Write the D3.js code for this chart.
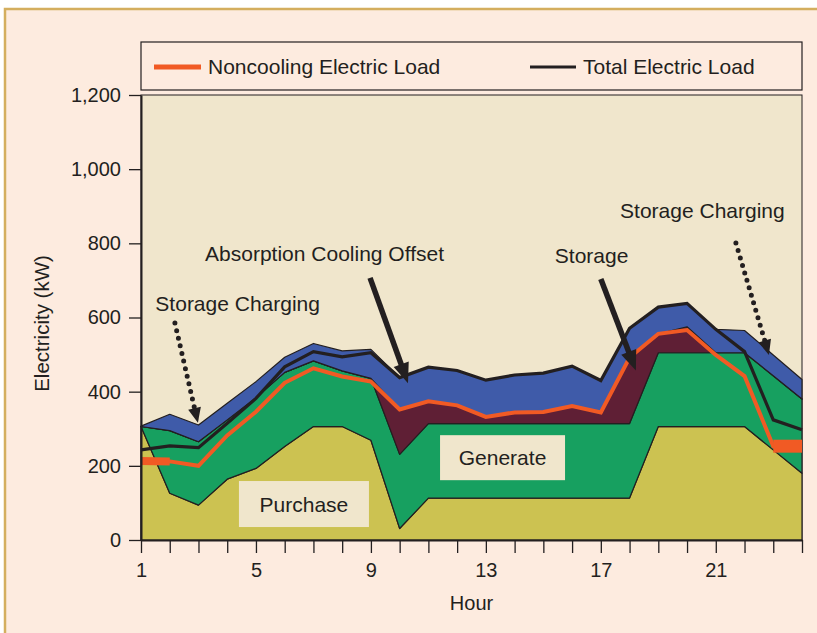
<!DOCTYPE html>
<html>
<head>
<meta charset="utf-8">
<script src="https://cdn.jsdelivr.net/npm/d3@7"></script>
<style>
  body { margin: 0; background: #fff; }
  text { font-family: "Liberation Sans", Arial, Helvetica, sans-serif; fill: #231f20; }
</style>
</head>
<body>
<script>
// hourly values (kW)
const hours = [1, 2, 3, 4, 5, 6, 7, 8, 9, 10, 11, 12, 13, 14, 15, 16, 17, 18, 19, 20, 21, 22, 23, 24];
// top of each stacked band
const purchaseTop = [306, 126, 94, 164, 193, 252, 306, 306, 269, 31, 113, 113, 113, 113, 113, 113, 113, 113, 306, 306, 306, 306, 243, 180];
const generateTop = [306, 295, 265, 324, 384, 452, 483, 456, 436, 231, 314, 314, 314, 314, 314, 314, 314, 314, 505, 505, 505, 505, 443, 380];
const storageTop = [306, 295, 265, 324, 384, 452, 483, 456, 436, 352, 374, 363, 332, 344, 345, 361, 344, 492, 556, 575, 505, 505, 443, 380];
const coolingTop = [307, 339, 310, 369, 427, 493, 530, 510, 514, 438, 466, 457, 431, 445, 450, 469, 430, 571, 628, 638, 568, 565, 499, 433];
// load lines
const totalLoad = [243, 254, 249, 315, 382, 467, 508, 494, 505, 438, 466, 457, 431, 445, 450, 469, 430, 571, 628, 638, 568, 508, 324, 297];
const noncoolingLoad = [213, 212, 200, 282, 346, 424, 463, 441, 427, 352, 374, 363, 332, 344, 345, 361, 344, 492, 556, 566, 499, 442, 253, 253];

const xTickLabels = [1, 5, 9, 13, 17, 21];
const yTicks = [0, 200, 400, 600, 800, 1000, 1200];

const bandNames = ["Purchase", "Generate", "Storage", "Absorption Cooling Offset"];
const bandColors = ["#ccc251", "#17a060", "#5f1f35", "#3f5ba9"];

const width = 817, height = 633;
const ink = "#231f20";

const svg = d3.select("body").append("svg")
  .attr("width", width)
  .attr("height", height);

// page panel
svg.append("rect")
  .attr("x", 5).attr("y", 9)
  .attr("width", 840).attr("height", 650)
  .attr("fill", "#fdebdf")
  .attr("stroke", "#d4ae5e")
  .attr("stroke-width", 2.5);

const x = d3.scaleLinear().domain([1, 24]).range([141, 802]);
const y = d3.scaleLinear().domain([0, 1200]).range([540, 95]);

// plot background
svg.append("rect")
  .attr("x", x(1)).attr("y", y(1200))
  .attr("width", x(24) - x(1)).attr("height", y(0) - y(1200))
  .attr("fill", "#f0e6cc")
  .attr("stroke", ink)
  .attr("stroke-width", 1);

// stacked bands, built from the named arrays
const tops = [purchaseTop, generateTop, storageTop, coolingTop];
const bands = tops.map((top, i) => hours.map((h, j) => ({
  h: h,
  lo: i === 0 ? 0 : tops[i - 1][j],
  hi: top[j]
})));

const area = d3.area()
  .x(d => x(d.h))
  .y0(d => y(d.lo))
  .y1(d => y(d.hi));

svg.append("g").selectAll("path")
  .data(bands)
  .enter()
  .append("path")
  .attr("d", area)
  .attr("fill", (d, i) => bandColors[i])
  .attr("stroke", ink)
  .attr("stroke-width", 1.2)
  .attr("stroke-linejoin", "round");

const line = d3.line()
  .x(d => x(d[0]))
  .y(d => y(d[1]));

const totalPts = hours.map((h, i) => [h, totalLoad[i]]);
const noncoolPts = hours.map((h, i) => [h, noncoolingLoad[i]]);

svg.append("path")
  .attr("d", line(totalPts))
  .attr("fill", "none")
  .attr("stroke", ink)
  .attr("stroke-width", 3.2);

svg.append("path")
  .attr("d", line(noncoolPts))
  .attr("fill", "none")
  .attr("stroke", "#f15a24")
  .attr("stroke-width", 4);

// the heavy orange pieces at the start and end of the day
[[0, 1, 8], [22, 23, 13]].forEach(function(s) {
  svg.append("path")
    .attr("d", line([noncoolPts[s[0]], noncoolPts[s[1]]]))
    .attr("stroke", "#f15a24")
    .attr("stroke-width", s[2])
    .attr("stroke-linecap", "butt");
});

// axes
const yAxis = d3.axisLeft(y)
  .tickValues(yTicks)
  .tickSize(12)
  .tickSizeOuter(0)
  .tickPadding(8)
  .tickFormat(d3.format(","));

const xAxis = d3.axisBottom(x)
  .tickValues(hours)
  .tickSize(13)
  .tickSizeOuter(0)
  .tickPadding(10)
  .tickFormat(d => xTickLabels.includes(d) ? d : "");

const gy = svg.append("g")
  .attr("transform", "translate(" + x(1) + ",0)")
  .call(yAxis);

const gx = svg.append("g")
  .attr("transform", "translate(0," + y(0) + ")")
  .call(xAxis);

[gx, gy].forEach(function(g) {
  g.select(".domain").attr("stroke", ink).attr("stroke-width", 2);
  g.selectAll(".tick line").attr("stroke", ink).attr("stroke-width", 1.3);
  g.selectAll(".tick text")
    .attr("font-size", 20)
    .attr("font-family", "Liberation Sans, Arial, sans-serif")
    .attr("fill", ink);
});

svg.append("text")
  .attr("x", (x(1) + x(24)) / 2)
  .attr("y", 610)
  .attr("text-anchor", "middle")
  .attr("font-size", 20)
  .text("Hour");

svg.append("text")
  .attr("transform", "translate(49," + ((y(0) + y(1200)) / 2 + 6) + ") rotate(-90)")
  .attr("text-anchor", "middle")
  .attr("font-size", 20.5)
  .text("Electricity (kW)");

// legend
const legend = svg.append("g");
legend.append("rect")
  .attr("x", x(1)).attr("y", 42)
  .attr("width", x(24) - x(1)).attr("height", 48)
  .attr("fill", "#fdebdf")
  .attr("stroke", ink)
  .attr("stroke-width", 1.2);
legend.append("line")
  .attr("x1", 154).attr("x2", 201).attr("y1", 67).attr("y2", 67)
  .attr("stroke", "#f15a24").attr("stroke-width", 5);
legend.append("text")
  .attr("x", 208).attr("y", 74)
  .attr("font-size", 21)
  .text("Noncooling Electric Load");
legend.append("line")
  .attr("x1", 530).attr("x2", 576).attr("y1", 67).attr("y2", 67)
  .attr("stroke", ink).attr("stroke-width", 3);
legend.append("text")
  .attr("x", 583).attr("y", 74)
  .attr("font-size", 21)
  .text("Total Electric Load");

// boxed band labels
function boxLabel(label, h, v, w, ht) {
  const cx = x(h), cy = y(v);
  svg.append("rect")
    .attr("x", cx - w / 2).attr("y", cy - ht / 2)
    .attr("width", w).attr("height", ht)
    .attr("fill", "#f0e6cc");
  svg.append("text")
    .attr("x", cx).attr("y", cy + 7.5)
    .attr("text-anchor", "middle")
    .attr("font-size", 21)
    .text(label);
}
boxLabel(bandNames[0], 6.67, 97, 130, 46);
boxLabel(bandNames[1], 13.58, 222, 125, 45);

// annotations
function note(label, h, v) {
  svg.append("text")
    .attr("x", x(h)).attr("y", y(v))
    .attr("font-size", 21)
    .text(label);
}
note("Storage Charging", 1.5, 617);
note(bandNames[3], 3.23, 752);
note(bandNames[2], 15.4, 746);
note("Storage Charging", 17.67, 868);

function arrow(h1, v1, h2, v2, dotted) {
  const x1 = x(h1), y1 = y(v1), x2 = x(h2), y2 = y(v2);
  const a = Math.atan2(y2 - y1, x2 - x1);
  const len = dotted ? 15 : 20, half = dotted ? 6.5 : 8;
  const bx = x2 - len * Math.cos(a), by = y2 - len * Math.sin(a);
  svg.append("line")
    .attr("x1", x1).attr("y1", y1)
    .attr("x2", bx + (dotted ? 0 : 2 * Math.cos(a))).attr("y2", by + (dotted ? 0 : 2 * Math.sin(a)))
    .attr("stroke", ink)
    .attr("stroke-width", dotted ? 5 : 5.5)
    .attr("stroke-linecap", dotted ? "round" : "butt")
    .attr("stroke-dasharray", dotted ? "0,7.8" : null);
  const px = -Math.sin(a), py = Math.cos(a);
  svg.append("polygon")
    .attr("points", [
      [x2, y2],
      [bx + half * px, by + half * py],
      [bx - half * px, by - half * py]
    ].map(p => p.join(",")).join(" "))
    .attr("fill", ink);
}
arrow(2.18, 585, 2.98, 316, true);
arrow(8.97, 707, 10.29, 423, false);
arrow(17.0, 704, 18.22, 457, false);
arrow(21.7, 801, 22.85, 499, true);
</script>
</body>
</html>
